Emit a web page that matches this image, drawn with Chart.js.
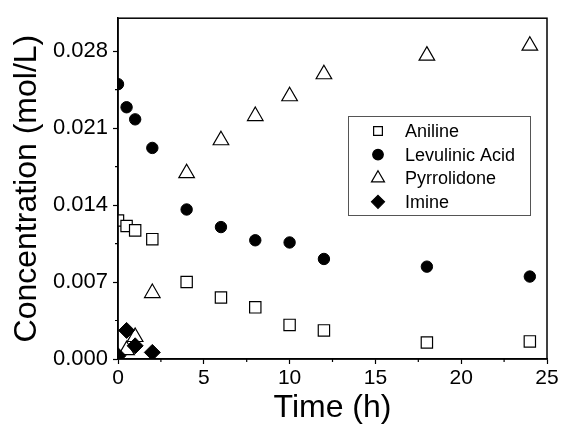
<!DOCTYPE html>
<html>
<head>
<meta charset="utf-8">
<script src="https://cdn.jsdelivr.net/npm/chart.js@4.4.1/dist/chart.umd.min.js"></script>
<style>
  html, body { margin: 0; padding: 0; background: #fff; }
  canvas { display: block; }
</style>
</head>
<body>
<canvas id="concChart" width="561" height="427"></canvas>
<script>
// values
const timeH = [0, 0.5, 1, 2, 4, 6, 8, 10, 12, 18, 24];
const imineTime = [0, 0.5, 1, 2];
const aniline = [0.0126, 0.0121, 0.0117, 0.0109, 0.0070, 0.0056, 0.0047, 0.0031, 0.0026, 0.0015, 0.0016];
const levulinic = [0.0250, 0.0229, 0.0218, 0.0192, 0.0136, 0.0120, 0.0108, 0.0106, 0.0091, 0.0084, 0.0075];
const pyrrolidone = [0.0000, 0.0008, 0.0020, 0.0060, 0.0169, 0.0199, 0.0221, 0.0239, 0.0259, 0.0276, 0.0285];
const imine = [0.0003, 0.0026, 0.0012, 0.0006];

const xTicks = [0, 5, 10, 15, 20, 25];
const yTicks = [0, 0.007, 0.014, 0.021, 0.028];
const xMinor = [2.5, 7.5, 12.5, 17.5, 22.5];
const yMinor = [0.0035, 0.0105, 0.0175, 0.0245];

const FONT = '"Liberation Sans", Arial, Helvetica, sans-serif';

function toPoints(xs, ys) {
    return xs.map((x, i) => ({ x: x, y: ys[i] }));
}

// legend marker, same shapes as chart.js point styles
function drawMarker(ctx, style, x, y, r, fill) {
    ctx.beginPath();
    if (style === 'circle') {
        ctx.arc(x, y, r, 0, Math.PI * 2);
    } else if (style === 'rect') {
        const h = r * Math.SQRT1_2;
        ctx.rect(x - h, y - h, 2 * h, 2 * h);
    } else if (style === 'triangle') {
        ctx.moveTo(x, y - r);
        ctx.lineTo(x + r * 0.866, y + r / 2);
        ctx.lineTo(x - r * 0.866, y + r / 2);
        ctx.closePath();
    } else if (style === 'rectRot') {
        ctx.moveTo(x, y - r);
        ctx.lineTo(x + r, y);
        ctx.lineTo(x, y + r);
        ctx.lineTo(x - r, y);
        ctx.closePath();
    }
    ctx.fillStyle = fill;
    ctx.fill();
    ctx.strokeStyle = '#000';
    ctx.lineWidth = 1.2;
    ctx.stroke();
}

// box around plot + minor ticks
const frameAndMinor = {
    id: 'frameAndMinor',
    afterDraw(chart) {
        const { ctx, chartArea: a, scales } = chart;
        ctx.save();
        ctx.strokeStyle = '#000';
        ctx.lineWidth = 1.5;
        ctx.strokeRect(a.left, a.top, a.right - a.left, a.bottom - a.top);
        ctx.lineWidth = 1.2;
        ctx.beginPath();
        xMinor.forEach(v => {
            const px = scales.x.getPixelForValue(v);
            ctx.moveTo(px, a.bottom);
            ctx.lineTo(px, a.bottom + 3);
        });
        yMinor.forEach(v => {
            const py = scales.y.getPixelForValue(v);
            ctx.moveTo(a.left - 3, py);
            ctx.lineTo(a.left, py);
        });
        ctx.stroke();
        ctx.restore();
    }
};

const legendBox = {
    id: 'legendBox',
    afterDraw(chart) {
        const ctx = chart.ctx;
        ctx.save();
        ctx.fillStyle = '#fff';
        ctx.strokeStyle = '#555';
        ctx.lineWidth = 1;
        ctx.fillRect(348.5, 116.5, 182, 99);
        ctx.strokeRect(348.5, 116.5, 182, 99);
        chart.data.datasets.forEach((ds, i) => {
            const y = 131 + i * 23.6;
            drawMarker(ctx, ds.pointStyle, 378, y, ds.legendRadius, ds.pointBackgroundColor);
            ctx.fillStyle = '#000';
            ctx.font = '18px ' + FONT;
            ctx.textBaseline = 'middle';
            ctx.textAlign = 'left';
            ctx.fillText(ds.label, 405, y + 1);
        });
        ctx.restore();
    }
};

const ctx = document.getElementById('concChart').getContext('2d');

new Chart(ctx, {
    type: 'scatter',
    data: {
        datasets: [
            {
                label: 'Aniline',
                data: toPoints(timeH, aniline),
                pointStyle: 'rect',
                pointRadius: 8,
                legendRadius: 6.2,
                pointBackgroundColor: '#fff',
                pointBorderColor: '#000',
                pointBorderWidth: 1.2,
                order: 3
            },
            {
                label: 'Levulinic Acid',
                data: toPoints(timeH, levulinic),
                pointStyle: 'circle',
                pointRadius: 5.7,
                legendRadius: 5.3,
                pointBackgroundColor: '#000',
                pointBorderColor: '#000',
                pointBorderWidth: 1,
                order: 2
            },
            {
                label: 'Pyrrolidone',
                data: toPoints(timeH, pyrrolidone),
                pointStyle: 'triangle',
                pointRadius: 9,
                legendRadius: 7.5,
                pointBackgroundColor: '#fff',
                pointBorderColor: '#000',
                pointBorderWidth: 1.2,
                order: 1
            },
            {
                label: 'Imine',
                data: toPoints(imineTime, imine),
                pointStyle: 'rectRot',
                pointRadius: 8,
                legendRadius: 6.5,
                pointBackgroundColor: '#000',
                pointBorderColor: '#000',
                pointBorderWidth: 1,
                order: 0
            }
        ]
    },
    options: {
        responsive: false,
        animation: false,
        layout: { padding: { top: 13, right: 14, left: 0, bottom: 0 } },
        plugins: {
            legend: { display: false },
            tooltip: { enabled: false }
        },
        scales: {
            x: {
                type: 'linear',
                min: 0,
                max: 25,
                afterBuildTicks: s => { s.ticks = xTicks.map(v => ({ value: v })); },
                afterFit: s => { s.height = 68; },
                border: { display: true, color: '#000', width: 1.5 },
                grid: { drawOnChartArea: false, tickLength: 5, tickColor: '#000', tickWidth: 1.2 },
                ticks: { color: '#000', font: { size: 21, family: FONT }, padding: 2, maxRotation: 0 },
                title: { display: true, text: 'Time (h)', color: '#000', font: { size: 32, family: FONT }, padding: { top: 0, bottom: 0 } }
            },
            y: {
                type: 'linear',
                min: 0,
                max: 0.031,
                afterBuildTicks: s => { s.ticks = yTicks.map(v => ({ value: v })); },
                afterFit: s => { s.width = 118; },
                border: { display: true, color: '#000', width: 1.5 },
                grid: { drawOnChartArea: false, tickLength: 5, tickColor: '#000', tickWidth: 1.2 },
                ticks: {
                    color: '#000',
                    font: { size: 22, family: FONT },
                    padding: 5,
                    callback: v => v.toFixed(3)
                },
                title: { display: true, text: 'Concentration (mol/L)', color: '#000', font: { size: 32, family: FONT }, padding: { top: 8, bottom: 0 } }
            }
        }
    },
    plugins: [frameAndMinor, legendBox]
});
</script>
</body>
</html>
